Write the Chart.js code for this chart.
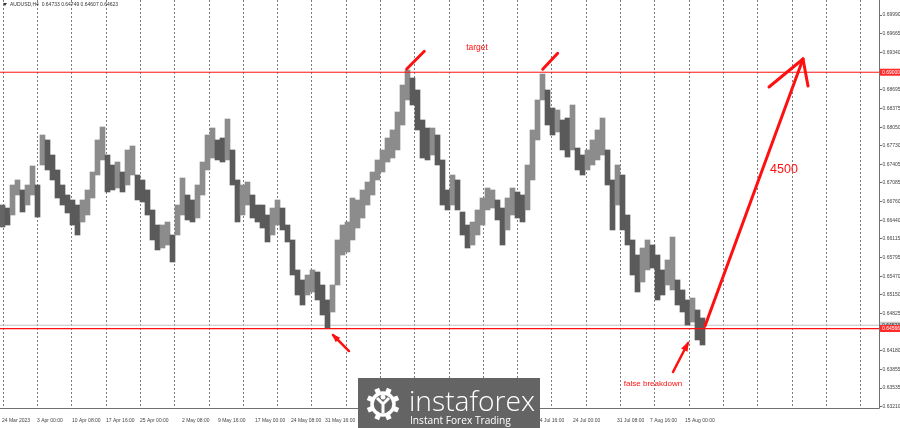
<!DOCTYPE html>
<html>
<head>
<meta charset="utf-8">
<script src="https://cdn.jsdelivr.net/npm/chart.js@4.4.0/dist/chart.umd.min.js"></script>
<style>
  html, body { margin: 0; padding: 0; background: #fff; }
  canvas { display: block; }
</style>
</head>
<body>
<canvas id="myChart" width="900" height="428"></canvas>
<script>
// AUDUSD H4, one entry per group of ~5 bars (high / low of the group)
const highs = [
  0.66703, 0.66651, 0.67049, 0.67136, 0.66963, 0.67049, 0.67378, 0.67049, 0.67914, 0.67828,
  0.67568, 0.67309, 0.67049, 0.66876, 0.66790, 0.66703, 0.66790, 0.66963, 0.67274, 0.67828,
  0.68052, 0.67568, 0.67395, 0.67447, 0.67274, 0.67655, 0.67724, 0.67222, 0.67136, 0.66963,
  0.66617, 0.66357, 0.66357, 0.66409, 0.66184, 0.66703, 0.67170, 0.66876, 0.66790, 0.67049,
  0.67447, 0.67914, 0.68035, 0.67828, 0.67862, 0.68191, 0.67655, 0.67136, 0.67049, 0.67101,
  0.66876, 0.66703, 0.66703, 0.66530, 0.66651, 0.66790, 0.66651, 0.66357, 0.66098, 0.65579,
  0.65406, 0.65492, 0.65579, 0.65544, 0.65319, 0.65060, 0.65319, 0.66098, 0.66357, 0.66409,
  0.66824, 0.66790, 0.66963, 0.67101, 0.67274, 0.67482, 0.67655, 0.67862, 0.68001, 0.68312,
  0.68779, 0.69039, 0.68900, 0.68693, 0.68174, 0.68035, 0.68035, 0.67914, 0.67482, 0.66963,
  0.67222, 0.67136, 0.66582, 0.66357, 0.66409, 0.66617, 0.66824, 0.66997, 0.66963, 0.66790,
  0.66651, 0.66824, 0.66997, 0.66928, 0.66876, 0.67395, 0.68001, 0.68520, 0.68969, 0.68693,
  0.68381, 0.68347, 0.68174, 0.68208, 0.68433, 0.67689, 0.67568, 0.67655, 0.67828, 0.68001,
  0.68208, 0.67655, 0.67136, 0.67395, 0.67222, 0.66530, 0.66098, 0.65838, 0.65959, 0.66098,
  0.66011, 0.65838, 0.65579, 0.65752, 0.66149, 0.65406, 0.65233, 0.65060, 0.65094, 0.64887,
  0.64748
];
const lows = [
  0.66322, 0.66357, 0.66530, 0.66876, 0.66582, 0.66703, 0.66876, 0.66495, 0.67395, 0.67309,
  0.67136, 0.66824, 0.66703, 0.66565, 0.66357, 0.66184, 0.66409, 0.66530, 0.66824, 0.67222,
  0.67482, 0.66928, 0.66963, 0.66997, 0.66928, 0.67049, 0.67222, 0.66790, 0.66755, 0.66530,
  0.66098, 0.65925, 0.65959, 0.66011, 0.65717, 0.66184, 0.66530, 0.66444, 0.66409, 0.66478,
  0.66876, 0.67309, 0.67516, 0.67482, 0.67447, 0.67482, 0.67049, 0.66409, 0.66530, 0.66703,
  0.66478, 0.66409, 0.66305, 0.66063, 0.66184, 0.66357, 0.66271, 0.66063, 0.65492, 0.65146,
  0.64973, 0.65146, 0.65198, 0.65060, 0.64800, 0.64575, 0.64852, 0.65319, 0.65838, 0.65890,
  0.66098, 0.66305, 0.66478, 0.66703, 0.66876, 0.67136, 0.67274, 0.67447, 0.67516, 0.67655,
  0.68087, 0.68520, 0.68433, 0.68001, 0.67516, 0.67482, 0.67568, 0.67395, 0.66703, 0.66617,
  0.66703, 0.66617, 0.66184, 0.65959, 0.66011, 0.66184, 0.66357, 0.66617, 0.66651, 0.66444,
  0.66011, 0.66271, 0.66530, 0.66478, 0.66409, 0.66617, 0.67136, 0.67828, 0.68520, 0.68087,
  0.67914, 0.67966, 0.67655, 0.67533, 0.67655, 0.67309, 0.67222, 0.67309, 0.67395, 0.67482,
  0.67568, 0.67049, 0.66271, 0.66703, 0.66271, 0.66011, 0.65492, 0.65198, 0.65371, 0.65579,
  0.65613, 0.65060, 0.65146, 0.65319, 0.65233, 0.64973, 0.64852, 0.64627, 0.64679, 0.64368,
  0.64281
];

const yTicks = [0.69990, 0.69665, 0.69340, 0.68695, 0.68375, 0.68050, 0.67730, 0.67405, 0.67085, 0.66760,
  0.66440, 0.66115, 0.65795, 0.65470, 0.65150, 0.64825, 0.64180, 0.63855, 0.63535, 0.63210];

const xLabels = ['24 Mar 2023', '3 Apr 00:00', '10 Apr 08:00', '17 Apr 16:00', '25 Apr 00:00',
  '2 May 08:00', '9 May 16:00', '17 May 00:00', '24 May 08:00', '31 May 16:00',
  '8 Jun 00:00', '15 Jun 08:00', '22 Jun 16:00', '30 Jun 00:00', '7 Jul 08:00',
  '14 Jul 16:00', '24 Jul 00:00', '31 Jul 08:00', '7 Aug 16:00', '15 Aug 00:00'];
const xLabelAt = [-0.1, 6.9, 13.9, 20.7, 27.5, 35.9, 43.1, 50.5, 57.7, 64.5,
  71.7, 78.9, 86.1, 93.3, 100.5, 106.9, 114.1, 122.9, 129.5, 136.5];

const targetLevel = 0.69000;
const supportLevel = 0.64566;
const bidPrice = 0.64623;
const headerText = 'AUDUSD,H4  0.64733 0.64749 0.64607 0.64623';

// axis ranges
const xMin = -0.5, xMax = 175.3;
const yMin = 0.631911, yMax = 0.702495;

const candleData = highs.map((h, i) => ({ x: i, y: [lows[i], h] }));
const levelLine = v => [{ x: xMin, y: v }, { x: xMax, y: v }];

// vertical separators every ~30 bars
const gridAt = [];
for (let g = 0.04; g < xMax; g += 6.86) gridAt.push(g);

const RED = '#ff1010';
const FONT = '"Liberation Sans", Arial, sans-serif';

function arrowLine(ctx, x1, y1, x2, y2, w, head) {
  ctx.save();
  ctx.strokeStyle = RED; ctx.fillStyle = RED; ctx.lineWidth = w; ctx.lineCap = 'round';
  ctx.beginPath(); ctx.moveTo(x1, y1); ctx.lineTo(x2, y2); ctx.stroke();
  if (head) {
    const a = Math.atan2(y2 - y1, x2 - x1);
    ctx.beginPath();
    ctx.moveTo(x2 + Math.cos(a) * 2, y2 + Math.sin(a) * 2);
    ctx.lineTo(x2 - Math.cos(a) * head + Math.sin(a) * head * 0.45, y2 - Math.sin(a) * head - Math.cos(a) * head * 0.45);
    ctx.lineTo(x2 - Math.cos(a) * head - Math.sin(a) * head * 0.45, y2 - Math.sin(a) * head + Math.cos(a) * head * 0.45);
    ctx.closePath(); ctx.fill();
  }
  ctx.restore();
}

function priceBox(ctx, area, py, text, bg, fg) {
  ctx.fillStyle = bg;
  ctx.fillRect(area.right + 1, py - 3.5, 21, 7);
  ctx.fillStyle = fg;
  ctx.font = '5px ' + FONT;
  ctx.textAlign = 'left'; ctx.textBaseline = 'middle';
  ctx.fillText(text, area.right + 3, py + 0.3);
}

function fitFont(ctx, text, width, weight, family) {
  ctx.font = weight + ' 20px ' + family;
  const size = 20 * width / ctx.measureText(text).width;
  ctx.font = weight + ' ' + size + 'px ' + family;
}

const separators = {
  id: 'separators',
  beforeDatasetsDraw(chart) {
    const { ctx, chartArea: area, scales: { x } } = chart;
    ctx.save();
    ctx.strokeStyle = '#7a7a7a'; ctx.lineWidth = 1; ctx.setLineDash([2, 2]);
    gridAt.forEach(v => {
      const px = Math.round(x.getPixelForValue(v)) + 0.5;
      ctx.beginPath(); ctx.moveTo(px, area.top); ctx.lineTo(px, area.bottom); ctx.stroke();
    });
    ctx.restore();
  }
};

const overlay = {
  id: 'overlay',
  afterDraw(chart) {
    const { ctx, chartArea: area, scales: { x, y } } = chart;
    const X = v => x.getPixelForValue(v);
    const Y = p => y.getPixelForValue(p);

    // frame
    ctx.save();
    ctx.strokeStyle = '#707070'; ctx.lineWidth = 1;
    ctx.beginPath();
    ctx.moveTo(area.left, area.bottom + 0.5); ctx.lineTo(area.right + 0.5, area.bottom + 0.5);
    ctx.lineTo(area.right + 0.5, area.top);
    ctx.stroke();

    // header
    ctx.fillStyle = '#333';
    ctx.beginPath(); ctx.moveTo(3, 3); ctx.lineTo(7, 3); ctx.lineTo(5, 6); ctx.closePath(); ctx.fill();
    ctx.font = '5px ' + FONT; ctx.textAlign = 'left'; ctx.textBaseline = 'middle';
    ctx.fillText(headerText, 10, 5);

    // price boxes on the axis
    priceBox(ctx, area, Y(targetLevel), targetLevel.toFixed(5), '#ff2a2a', '#fff');
    priceBox(ctx, area, Y(bidPrice), bidPrice.toFixed(5), '#c8c8c8', '#222');
    priceBox(ctx, area, Y(supportLevel), supportLevel.toFixed(5), '#ff2a2a', '#fff');

    // target marks
    arrowLine(ctx, X(80.84), Y(0.69056), X(84.36), Y(0.69362), 3, 0);
    arrowLine(ctx, X(108.04), Y(0.69051), X(111.04), Y(0.69327), 3, 0);
    ctx.fillStyle = RED; ctx.font = '8.5px ' + FONT; ctx.textAlign = 'center';
    ctx.fillText('target', X(94.9), Y(0.69419));

    // projected move
    arrowLine(ctx, X(140.5), Y(0.64610), X(160.1), Y(0.69229), 3, 0);
    arrowLine(ctx, X(160.1), Y(0.69229), X(153.3), Y(0.68744), 3, 0);
    arrowLine(ctx, X(160.1), Y(0.69229), X(161.1), Y(0.68762), 3, 0);
    ctx.fillStyle = RED; ctx.font = '12.5px ' + FONT; ctx.textAlign = 'center';
    ctx.fillText('4500', X(156.3), Y(0.67308));

    // small arrows
    arrowLine(ctx, X(69.3), Y(0.64177), X(66.1), Y(0.64454), 2.5, 7);
    arrowLine(ctx, X(134.1), Y(0.63814), X(137.1), Y(0.64316), 2.5, 8);
    ctx.fillStyle = RED; ctx.font = '8px ' + FONT; ctx.textAlign = 'center';
    ctx.fillText('false breakdown', X(130.1), Y(0.63606));

    // logo
    ctx.fillStyle = '#646464';
    ctx.fillRect(358, 378, 182, 50);
    ctx.strokeStyle = '#fff'; ctx.fillStyle = '#fff';
    const gx = 383, gy = 404;
    ctx.lineWidth = 3.5;
    ctx.beginPath(); ctx.arc(gx, gy, 11, 0, Math.PI * 2); ctx.stroke();
    for (let k = 0; k < 8; k++) {
      const a = k * Math.PI / 4 + Math.PI / 8;
      ctx.save(); ctx.translate(gx + Math.cos(a) * 14, gy + Math.sin(a) * 14); ctx.rotate(a);
      ctx.fillRect(-2.5, -2.5, 5, 5); ctx.restore();
    }
    ctx.lineWidth = 3;
    ctx.beginPath();
    ctx.moveTo(gx - 6, gy - 6); ctx.lineTo(gx, gy); ctx.lineTo(gx + 6, gy - 6);
    ctx.moveTo(gx, gy); ctx.lineTo(gx, gy + 9);
    ctx.stroke();
    ctx.beginPath(); ctx.arc(gx, gy - 7, 2.5, 0, Math.PI * 2); ctx.fill();
    ctx.textAlign = 'left'; ctx.textBaseline = 'alphabetic';
    fitFont(ctx, 'instaforex', 126, '300', '"Open Sans", sans-serif');
    ctx.fillText('instaforex', 409, 411);
    fitFont(ctx, 'Instant Forex Trading', 101, '400', '"Open Sans", sans-serif');
    ctx.fillText('Instant Forex Trading', 410, 424);
    ctx.restore();
  }
};

new Chart(document.getElementById('myChart'), {
  type: 'bar',
  data: {
    datasets: [
      {
        type: 'line', data: levelLine(targetLevel), borderColor: RED, borderWidth: 1,
        pointRadius: 0, order: 0
      },
      {
        type: 'line', data: levelLine(bidPrice), borderColor: '#c4c4c4', borderWidth: 1,
        pointRadius: 0, order: 2
      },
      {
        type: 'line', data: levelLine(supportLevel), borderColor: RED, borderWidth: 1.3,
        pointRadius: 0, order: 0
      },
      {
        data: candleData,
        barThickness: 5,
        backgroundColor: ctx => {
          const i = ctx.dataIndex;
          if (i === 0) return '#666';
          const m = (highs[i] + lows[i]) / 2, pm = (highs[i - 1] + lows[i - 1]) / 2;
          return m >= pm ? '#8c8c8c' : '#5a5a5a';
        },
        order: 1
      }
    ]
  },
  options: {
    responsive: false,
    animation: false,
    devicePixelRatio: 1,
    layout: { padding: 0 },
    plugins: { legend: { display: false }, tooltip: { enabled: false } },
    scales: {
      x: {
        type: 'linear', min: xMin, max: xMax, offset: false,
        grid: { display: false, offset: false },
        border: { display: false },
        afterBuildTicks: s => { s.ticks = xLabelAt.map(v => ({ value: v })); },
        afterFit: s => { s.height = 20; s.paddingLeft = 0; s.paddingRight = 0; },
        ticks: {
          align: 'start', padding: 2, maxRotation: 0, autoSkip: false,
          color: '#444', font: { size: 5, family: FONT },
          callback: (v, i) => xLabels[i]
        }
      },
      y: {
        position: 'right', min: yMin, max: yMax, beginAtZero: false,
        grid: { drawOnChartArea: false, drawTicks: true, tickLength: 3, color: '#707070' },
        border: { display: false },
        afterBuildTicks: s => { s.ticks = yTicks.map(v => ({ value: v })); },
        afterFit: s => { s.width = 21; s.paddingTop = 0; s.paddingBottom = 0; },
        ticks: {
          padding: 0.5, color: '#444', font: { size: 5, family: FONT },
          callback: v => v.toFixed(5)
        }
      }
    }
  },
  plugins: [separators, overlay]
});
</script>
</body>
</html>
